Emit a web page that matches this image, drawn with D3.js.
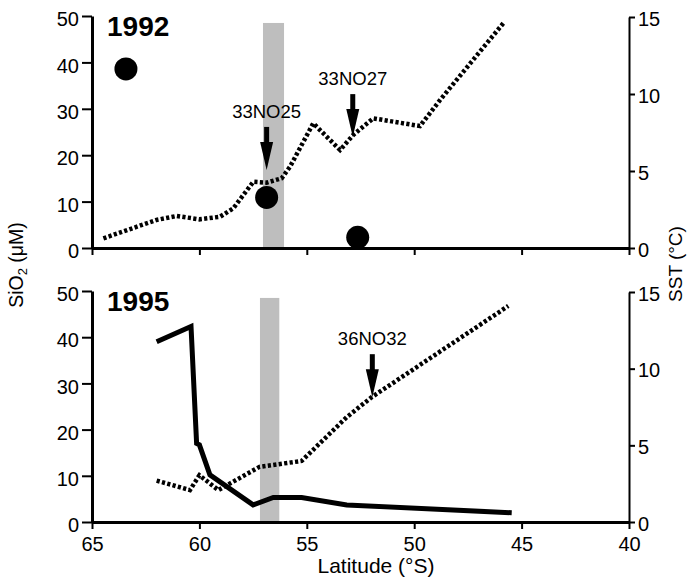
<!DOCTYPE html>
<html><head><meta charset="utf-8">
<script src="https://cdn.jsdelivr.net/npm/d3@7"></script>
<style>
body{margin:0;background:#fff;}
svg{display:block;font-family:"Liberation Sans",Arial,Helvetica,sans-serif;}
</style></head>
<body><svg id="c" width="692" height="578"></svg>
<script>
// ---- data ----
const latTicks = [65, 60, 55, 50, 45, 40];
const sio2Ticks = [0, 10, 20, 30, 40, 50];
const sstTicks = [0, 5, 10, 15];

// 1992 panel
const sio2Dots1992 = [[63.42, 38.6], [56.87, 10.9], [52.63, 2.3]];
const sst1992 = [[64.47, 0.63], [62.0, 1.82], [61.06, 2.08], [60.0, 1.86], [59.04, 2.03], [58.42, 2.58],
  [57.49, 4.3], [56.87, 4.24], [56.17, 4.53], [55.78, 5.28], [54.7, 8.1], [53.45, 6.36],
  [52.84, 7.34], [51.91, 8.42], [49.73, 7.92], [48.8, 9.6], [45.85, 14.6]];
const band1992 = [57.04, 56.06, 48.5];
const arrows1992 = [["33NO25", 56.87, 5.07], ["33NO27", 52.86, 7.2]];

// 1995 panel
const sio2Line1995 = [[61.99, 39.0], [60.39, 42.3], [60.13, 17.0], [60.0, 16.7], [59.51, 10.2],
  [57.5, 3.7], [56.56, 5.3], [55.24, 5.3], [53.14, 3.7], [45.46, 2.0]];
const sst1995 = [[61.99, 2.7], [60.44, 2.08], [60.0, 3.05], [59.12, 2.08], [57.2, 3.6],
  [55.24, 3.98], [53.14, 6.84], [51.98, 8.14], [45.62, 14.09]];
const band1995 = [57.18, 56.28, 48.5];
const arrows1995 = [["36NO32", 51.95, 8.14]];

// ---- drawing ----
const svg = d3.select("#c");
const x = d3.scaleLinear().domain([65, 40]).range([92, 629]);

function panel(top, bottom, showXLabels, year, dots, sioLine, sst, band, arrows) {
  const yL = d3.scaleLinear().domain([0, 50]).range([bottom, top]);
  const yR = d3.scaleLinear().domain([0, 15]).range([bottom, top + 1]);
  const g = svg.append("g");

  // gray band
  g.append("rect").attr("x", x(band[0])).attr("width", x(band[1]) - x(band[0]))
    .attr("y", yL(band[2])).attr("height", yL(0) - yL(band[2]) - 1).attr("fill", "#bebebe");

  // axes
  const ax = g.append("g").attr("transform", `translate(0,${bottom})`)
    .call(d3.axisBottom(x).tickValues(latTicks).tickSize(7).tickSizeOuter(0)
      .tickFormat(showXLabels ? d3.format("d") : () => ""));
  ax.select(".domain").attr("stroke-width", 3);
  ax.selectAll(".tick line").attr("stroke-width", 2);
  ax.selectAll(".tick text").attr("font-size", 20).attr("dy", "0.95em").attr("fill", "#000").attr("font-family", null);

  const al = g.append("g").attr("transform", `translate(${x(65)},0)`)
    .call(d3.axisLeft(yL).tickValues(sio2Ticks).tickSize(10).tickSizeOuter(0));
  al.select(".domain").attr("stroke-width", 3);
  al.selectAll(".tick line").attr("stroke-width", 2);
  al.selectAll(".tick text").attr("font-size", 20).attr("x", -13).attr("dy", "0.48em").attr("fill", "#000").attr("font-family", null);

  const ar = g.append("g").attr("transform", `translate(${x(40)},0)`)
    .call(d3.axisRight(yR).tickValues(sstTicks).tickSize(6).tickSizeOuter(0));
  ar.select(".domain").attr("stroke-width", 2);
  ar.selectAll(".tick line").attr("stroke-width", 2);
  ar.selectAll(".tick text").attr("font-size", 20).attr("x", 9).attr("dy", "0.4em").attr("fill", "#000").attr("font-family", null);
  g.selectAll(".domain, .tick line").attr("stroke", "#000");

  // SST dotted line
  g.append("path").datum(sst)
    .attr("d", d3.line().x(d => x(d[0])).y(d => yR(d[1])))
    .attr("fill", "none").attr("stroke", "#000").attr("stroke-width", 4.5)
    .attr("stroke-dasharray", "3.2,2.3");

  // SiO2 solid line
  if (sioLine) {
    g.append("path").datum(sioLine)
      .attr("d", d3.line().x(d => x(d[0])).y(d => yL(d[1])))
      .attr("fill", "none").attr("stroke", "#000").attr("stroke-width", 5)
      .attr("stroke-linejoin", "miter");
  }
  // SiO2 dots
  if (dots) {
    g.selectAll("circle.d").data(dots).join("circle")
      .attr("cx", d => x(d[0])).attr("cy", d => yL(d[1])).attr("r", 11.5).attr("fill", "#000");
  }

  // arrows
  arrows.forEach(a => {
    const ax0 = x(a[1]), tip = yR(a[2]);
    const topY = tip - 43, headY = tip - 28;
    g.append("rect").attr("x", ax0 - 2.5).attr("y", topY).attr("width", 5).attr("height", headY - topY + 1).attr("fill", "#000");
    g.append("path").attr("d", `M${ax0 - 6.5},${headY}L${ax0 + 6.5},${headY}L${ax0},${tip}Z`).attr("fill", "#000");
    g.append("text").attr("x", ax0).attr("y", topY - 9).attr("text-anchor", "middle")
      .attr("font-size", 18.5).text(a[0]);
  });

  // year label
  g.append("text").attr("x", 107).attr("y", top + 20).attr("font-size", 28)
    .attr("font-weight", "bold").text(year);
}

panel(16, 248, false, "1992", sio2Dots1992, null, sst1992, band1992, arrows1992);
panel(291, 522, true, "1995", null, sio2Line1995, sst1995, band1995, arrows1995);

// axis titles
const t1 = svg.append("text").attr("transform", "translate(23,265) rotate(-90)")
  .attr("text-anchor", "middle").attr("font-size", 19.5);
t1.append("tspan").text("SiO");
t1.append("tspan").attr("font-size", 13).attr("dy", 4).text("2");
t1.append("tspan").attr("dy", -4).text(" (μM)");

svg.append("text").attr("transform", "translate(682,264) rotate(-90)")
  .attr("text-anchor", "middle").attr("font-size", 19).text("SST (°C)");

svg.append("text").attr("x", 376).attr("y", 573).attr("text-anchor", "middle")
  .attr("font-size", 21).text("Latitude (°S)");
</script></body></html>
